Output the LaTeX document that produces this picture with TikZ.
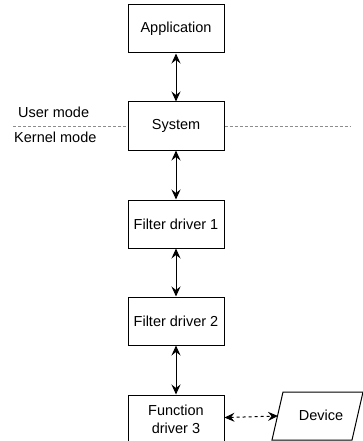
\documentclass[tikz,border=0pt]{standalone}
\usepackage{fontspec}
\setmainfont{Liberation Sans}
\usetikzlibrary{arrows.meta,positioning,calc}

\begin{document}
\begin{tikzpicture}[
    x=1pt, y=-1pt,
    >=Stealth,
    font=\fontsize{14.5}{18}\selectfont,
    layer/.style={draw, line width=1pt, minimum width=96pt, minimum height=48pt, align=center, inner sep=2pt},
    device/.style={minimum width=80pt, minimum height=48pt, inner sep=0pt},
    link/.style={line width=1pt, {Stealth[length=10pt,width=9pt,inset=3.5pt]}-{Stealth[length=10pt,width=9pt,inset=3.5pt]}},
    modeline/.style={black!45, line width=1pt, dash pattern=on 3pt off 2pt},
    modelabel/.style={anchor=west, inner sep=0pt}
]
    \useasboundingbox (0,0) rectangle (363,441);

    % --- Schichten ---
    \node[layer] (app) at (176,29) {Application};
    \node[layer, below=48pt of app] (sys) {System};
    \node[layer, below=49pt of sys] (fd1) {Filter driver 1};
    \node[layer, below=48pt of fd1] (fd2) {Filter driver 2};
    \node[layer, below=49pt of fd2] (fd3) {Function\\driver 3};

    % Geraet rechts neben dem Funktionstreiber (Parallelogramm)
    \node[device] (dev) at (321,415) {Device};
    \draw[line width=1pt] (272,440) -- (283,392) -- (363,392) -- (352,440) -- cycle;
    \coordinate (devin) at (278,416);

    % --- Grenze User/Kernel ---
    \coordinate (ml) at (13,126);
    \coordinate (mr) at (350,126);
    \draw[modeline] (ml) -- (ml -| sys.west);
    \draw[modeline] (mr -| sys.east) -- (mr);
    \node[modelabel] (um) at (18,112) {User mode};
    \node[modelabel] (km) at (14,137) {Kernel mode};

    % --- Verbindungen ---
    \draw[link] (app) -- (sys);
    \draw[link] (sys) -- (fd1);
    \draw[link] (fd1) -- (fd2);
    \draw[link] (fd2) -- (fd3);
    \draw[link, dashed] (fd3) -- (devin);
\end{tikzpicture}
\end{document}
